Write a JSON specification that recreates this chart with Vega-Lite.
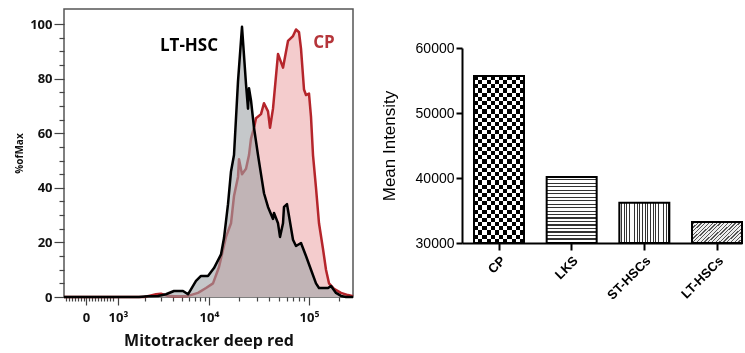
{
 "$schema": "https://vega.github.io/schema/vega-lite/v6.json",
 "padding": {"left": 13, "top": 8, "right": 0, "bottom": 0},
 "background": "white",
 "config": {"view": {"stroke": null}, "axis": {"grid": false}},
 "spacing": 25,
 "datasets": {
  "hist": [
   {"cell":"CP","channel":2.55,"pct":0},{"cell":"CP","channel":3.35,"pct":0},{"cell":"CP","channel":3.42,"pct":0.6},{"cell":"CP","channel":3.47,"pct":1.0},{"cell":"CP","channel":3.52,"pct":1.2},{"cell":"CP","channel":3.58,"pct":0.5},{"cell":"CP","channel":3.65,"pct":0.3},{"cell":"CP","channel":3.79,"pct":0.4},{"cell":"CP","channel":3.89,"pct":1.5},{"cell":"CP","channel":3.97,"pct":3.3},{"cell":"CP","channel":4.04,"pct":5},{"cell":"CP","channel":4.10,"pct":11},{"cell":"CP","channel":4.17,"pct":22},{"cell":"CP","channel":4.22,"pct":27},{"cell":"CP","channel":4.25,"pct":37},{"cell":"CP","channel":4.29,"pct":44},{"cell":"CP","channel":4.30,"pct":50.5},{"cell":"CP","channel":4.33,"pct":45},{"cell":"CP","channel":4.37,"pct":47},{"cell":"CP","channel":4.40,"pct":52},{"cell":"CP","channel":4.42,"pct":58},{"cell":"CP","channel":4.45,"pct":62},{"cell":"CP","channel":4.47,"pct":65.5},{"cell":"CP","channel":4.52,"pct":67},{"cell":"CP","channel":4.55,"pct":71},{"cell":"CP","channel":4.59,"pct":68},{"cell":"CP","channel":4.61,"pct":62},{"cell":"CP","channel":4.64,"pct":69},{"cell":"CP","channel":4.69,"pct":89},{"cell":"CP","channel":4.74,"pct":84},{"cell":"CP","channel":4.79,"pct":93.8},{"cell":"CP","channel":4.84,"pct":95.6},{"cell":"CP","channel":4.87,"pct":98},{"cell":"CP","channel":4.90,"pct":97},{"cell":"CP","channel":4.92,"pct":91},{"cell":"CP","channel":4.95,"pct":76},{"cell":"CP","channel":4.97,"pct":74},{"cell":"CP","channel":5.00,"pct":74.5},{"cell":"CP","channel":5.02,"pct":66},{"cell":"CP","channel":5.04,"pct":52},{"cell":"CP","channel":5.07,"pct":40},{"cell":"CP","channel":5.10,"pct":27},{"cell":"CP","channel":5.14,"pct":17.6},{"cell":"CP","channel":5.17,"pct":10},{"cell":"CP","channel":5.20,"pct":5},{"cell":"CP","channel":5.25,"pct":3},{"cell":"CP","channel":5.32,"pct":1.5},{"cell":"CP","channel":5.39,"pct":0.7},{"cell":"CP","channel":5.44,"pct":0.3},
   {"cell":"LT-HSC","channel":2.55,"pct":0},{"cell":"LT-HSC","channel":3.30,"pct":0},{"cell":"LT-HSC","channel":3.39,"pct":0.3},{"cell":"LT-HSC","channel":3.49,"pct":0.4},{"cell":"LT-HSC","channel":3.57,"pct":1},{"cell":"LT-HSC","channel":3.65,"pct":2.2},{"cell":"LT-HSC","channel":3.74,"pct":2.2},{"cell":"LT-HSC","channel":3.79,"pct":1},{"cell":"LT-HSC","channel":3.87,"pct":5.9},{"cell":"LT-HSC","channel":3.92,"pct":7.7},{"cell":"LT-HSC","channel":3.99,"pct":7.7},{"cell":"LT-HSC","channel":4.05,"pct":10.6},{"cell":"LT-HSC","channel":4.12,"pct":15.6},{"cell":"LT-HSC","channel":4.15,"pct":21.6},{"cell":"LT-HSC","channel":4.19,"pct":34},{"cell":"LT-HSC","channel":4.22,"pct":46},{"cell":"LT-HSC","channel":4.25,"pct":52},{"cell":"LT-HSC","channel":4.29,"pct":79},{"cell":"LT-HSC","channel":4.33,"pct":99},{"cell":"LT-HSC","channel":4.37,"pct":78},{"cell":"LT-HSC","channel":4.39,"pct":69},{"cell":"LT-HSC","channel":4.40,"pct":76.5},{"cell":"LT-HSC","channel":4.42,"pct":72},{"cell":"LT-HSC","channel":4.45,"pct":62},{"cell":"LT-HSC","channel":4.49,"pct":52},{"cell":"LT-HSC","channel":4.52,"pct":45},{"cell":"LT-HSC","channel":4.55,"pct":38},{"cell":"LT-HSC","channel":4.59,"pct":33},{"cell":"LT-HSC","channel":4.64,"pct":28.6},{"cell":"LT-HSC","channel":4.65,"pct":30.8},{"cell":"LT-HSC","channel":4.69,"pct":27},{"cell":"LT-HSC","channel":4.71,"pct":22},{"cell":"LT-HSC","channel":4.74,"pct":27},{"cell":"LT-HSC","channel":4.75,"pct":33},{"cell":"LT-HSC","channel":4.78,"pct":34},{"cell":"LT-HSC","channel":4.80,"pct":29.7},{"cell":"LT-HSC","channel":4.84,"pct":21},{"cell":"LT-HSC","channel":4.87,"pct":18.7},{"cell":"LT-HSC","channel":4.92,"pct":19.8},{"cell":"LT-HSC","channel":4.97,"pct":15},{"cell":"LT-HSC","channel":5.02,"pct":10},{"cell":"LT-HSC","channel":5.07,"pct":5},{"cell":"LT-HSC","channel":5.10,"pct":3.3},{"cell":"LT-HSC","channel":5.19,"pct":3.3},{"cell":"LT-HSC","channel":5.22,"pct":4},{"cell":"LT-HSC","channel":5.27,"pct":1.5},{"cell":"LT-HSC","channel":5.32,"pct":0.4},{"cell":"LT-HSC","channel":5.37,"pct":0},{"cell":"LT-HSC","channel":5.44,"pct":0}
  ],
  "notes": [
   {"label":"LT-HSC","cell":"LT-HSC","channel":3.80,"pct":92},
   {"label":"CP","cell":"CP","channel":5.15,"pct":93}
  ],
  "bars": [
   {"population":"CP","mean":55700},
   {"population":"LKS","mean":40150},
   {"population":"ST-HSCs","mean":36200},
   {"population":"LT-HSCs","mean":33250}
  ]
 },
 "hconcat": [
  {
   "width": 289, "height": 288,
   "view": {"stroke": "#555", "strokeWidth": 1.5},
   "encoding": {
    "x": {"field":"channel","type":"quantitative","scale":{"domain":[2.55,5.44],"nice":false,"zero":false},
     "axis": {"title":"Mitotracker deep red","titleFont":"Open Sans","titleFontWeight":"bold","titleFontSize":16,"titleColor":"#111","titlePadding":8,
      "values":[2.57,2.60,2.63,2.66,2.69,2.72,2.745,2.77,2.80,2.83,2.86,2.89,2.92,2.95,2.98,3.01,3.04,3.09,3.364,3.524,3.638,3.726,3.798,3.859,3.912,3.958,4,4.301,4.477,4.602,4.699,4.778,4.845,4.903,4.954,5,5.301],
      "labelExpr":"datum.value === 2.77 ? '0' : datum.value === 3.09 ? '10³' : datum.value === 4 ? '10⁴' : datum.value === 5 ? '10⁵' : ''",
      "labelFont":"Open Sans","labelFontWeight":"bold","labelFontSize":13,"labelColor":"#111","labelOverlap":false,"labelFlush":false,"labelBound":false,"labelPadding":6,
      "domain":false,"tickColor":"#444","tickWidth":1.2,
      "tickSize":{"condition":{"test":"datum.value === 2.77 || datum.value === 3.09 || datum.value === 4 || datum.value === 5","value":8},"value":4}}},
    "y": {"field":"pct","type":"quantitative","scale":{"domain":[0,105.5],"nice":false},
     "axis": {"title":"%ofMax","titleFont":"Open Sans","titleFontWeight":"bold","titleFontSize":10,"titleColor":"#111","titlePadding":5,
      "values":[0,5,10,15,20,25,30,35,40,45,50,55,60,65,70,75,80,85,90,95,100],
      "labelExpr":"datum.value % 20 === 0 ? datum.label : ''",
      "labelFont":"Open Sans","labelFontWeight":"bold","labelFontSize":13,"labelColor":"#111","labelOverlap":false,"labelPadding":2,
      "domain":false,"tickColor":"#444","tickWidth":1.2,
      "tickSize":{"condition":{"test":"datum.value % 20 === 0","value":10},"value":5}}}
   },
   "layer": [
    {"data":{"name":"hist"},"transform":[{"filter":"datum.cell === 'CP'"}],"mark":{"type":"area","fill":"#f4cccd"}},
    {"data":{"name":"hist"},"transform":[{"filter":"datum.cell === 'CP'"}],"mark":{"type":"line","color":"#b5252b","strokeWidth":2.5,"strokeJoin":"round"}},
    {"data":{"name":"hist"},"transform":[{"filter":"datum.cell === 'LT-HSC'"}],"mark":{"type":"area","fill":"#9fa3a6","fillOpacity":0.6}},
    {"data":{"name":"hist"},"transform":[{"filter":"datum.cell === 'LT-HSC'"}],"mark":{"type":"line","color":"#000","strokeWidth":2.5,"strokeJoin":"round"}},
    {"data":{"name":"notes"},"mark":{"type":"text","font":"Open Sans","fontWeight":"bold","fontSize":17},
     "encoding":{"text":{"field":"label"},"color":{"field":"cell","type":"nominal","scale":{"domain":["LT-HSC","CP"],"range":["#000000","#b5353a"]},"legend":null}}}
   ]
  },
  {
   "spacing": 20,
   "vconcat": [
    {"width": 280, "height": 12, "data": {"values": [{"t": ""}]}, "mark": {"type": "text"}, "encoding": {"text": {"field": "t"}}},
    {
   "width": 280, "height": 195,
   "data": {"name": "bars"},
   "encoding": {
    "x": {"field":"population","type":"nominal","sort":null,
     "scale":{"domain":["CP","LKS","ST-HSCs","LT-HSCs"],"paddingInner":0.312,"paddingOuter":0.0826,"align":1},
     "axis":{"title":null,"labelAngle":-45,"labelFont":"Liberation Sans","labelFontWeight":"bold","labelFontSize":13,"labelColor":"#000","domainColor":"#000","domainWidth":2,"tickColor":"#000","tickWidth":2,"tickSize":7,"labelPadding":4}},
    "y": {"field":"mean","type":"quantitative","scale":{"domain":[30000,60000],"nice":false,"zero":false},
     "axis":{"title":"Mean Intensity","titleFont":"Liberation Sans","titleFontWeight":"normal","titleFontSize":17,"titleColor":"#000","titlePadding":17,
      "values":[30000,40000,50000,60000],"format":"d","labelFont":"Liberation Sans","labelFontSize":14,"labelColor":"#000","labelPadding":2,
      "domainColor":"#000","domainWidth":2,"tickColor":"#000","tickWidth":2,"tickSize":6}},
    "y2": {"datum": 30000}
   },
   "layer": [
    {"transform":[{"filter":"datum.population === 'CP'"}],
     "mark":{"type":"bar","fill":{"gradient":"linear","x1":0,"y1":0,"x2":1,"y2":0,"stops":[
      {"offset":0,"color":"#000"},{"offset":0.0833,"color":"#000"},{"offset":0.0833,"color":"#fff"},{"offset":0.1667,"color":"#fff"},
      {"offset":0.1667,"color":"#000"},{"offset":0.25,"color":"#000"},{"offset":0.25,"color":"#fff"},{"offset":0.3333,"color":"#fff"},
      {"offset":0.3333,"color":"#000"},{"offset":0.4167,"color":"#000"},{"offset":0.4167,"color":"#fff"},{"offset":0.5,"color":"#fff"},
      {"offset":0.5,"color":"#000"},{"offset":0.5833,"color":"#000"},{"offset":0.5833,"color":"#fff"},{"offset":0.6667,"color":"#fff"},
      {"offset":0.6667,"color":"#000"},{"offset":0.75,"color":"#000"},{"offset":0.75,"color":"#fff"},{"offset":0.8333,"color":"#fff"},
      {"offset":0.8333,"color":"#000"},{"offset":0.9167,"color":"#000"},{"offset":0.9167,"color":"#fff"},{"offset":1,"color":"#fff"}]}}},
    {"transform":[{"filter":"datum.population === 'CP'"}],
     "mark":{"type":"bar","blend":"difference","fill":{"gradient":"linear","x1":0,"y1":0,"x2":0,"y2":1,"stops":[
      {"offset":0,"color":"#000"},{"offset":0.025,"color":"#000"},{"offset":0.025,"color":"#fff"},{"offset":0.05,"color":"#fff"},
      {"offset":0.05,"color":"#000"},{"offset":0.075,"color":"#000"},{"offset":0.075,"color":"#fff"},{"offset":0.1,"color":"#fff"},
      {"offset":0.1,"color":"#000"},{"offset":0.125,"color":"#000"},{"offset":0.125,"color":"#fff"},{"offset":0.15,"color":"#fff"},
      {"offset":0.15,"color":"#000"},{"offset":0.175,"color":"#000"},{"offset":0.175,"color":"#fff"},{"offset":0.2,"color":"#fff"},
      {"offset":0.2,"color":"#000"},{"offset":0.225,"color":"#000"},{"offset":0.225,"color":"#fff"},{"offset":0.25,"color":"#fff"},
      {"offset":0.25,"color":"#000"},{"offset":0.275,"color":"#000"},{"offset":0.275,"color":"#fff"},{"offset":0.3,"color":"#fff"},
      {"offset":0.3,"color":"#000"},{"offset":0.325,"color":"#000"},{"offset":0.325,"color":"#fff"},{"offset":0.35,"color":"#fff"},
      {"offset":0.35,"color":"#000"},{"offset":0.375,"color":"#000"},{"offset":0.375,"color":"#fff"},{"offset":0.4,"color":"#fff"},
      {"offset":0.4,"color":"#000"},{"offset":0.425,"color":"#000"},{"offset":0.425,"color":"#fff"},{"offset":0.45,"color":"#fff"},
      {"offset":0.45,"color":"#000"},{"offset":0.475,"color":"#000"},{"offset":0.475,"color":"#fff"},{"offset":0.5,"color":"#fff"},
      {"offset":0.5,"color":"#000"},{"offset":0.525,"color":"#000"},{"offset":0.525,"color":"#fff"},{"offset":0.55,"color":"#fff"},
      {"offset":0.55,"color":"#000"},{"offset":0.575,"color":"#000"},{"offset":0.575,"color":"#fff"},{"offset":0.6,"color":"#fff"},
      {"offset":0.6,"color":"#000"},{"offset":0.625,"color":"#000"},{"offset":0.625,"color":"#fff"},{"offset":0.65,"color":"#fff"},
      {"offset":0.65,"color":"#000"},{"offset":0.675,"color":"#000"},{"offset":0.675,"color":"#fff"},{"offset":0.7,"color":"#fff"},
      {"offset":0.7,"color":"#000"},{"offset":0.725,"color":"#000"},{"offset":0.725,"color":"#fff"},{"offset":0.75,"color":"#fff"},
      {"offset":0.75,"color":"#000"},{"offset":0.775,"color":"#000"},{"offset":0.775,"color":"#fff"},{"offset":0.8,"color":"#fff"},
      {"offset":0.8,"color":"#000"},{"offset":0.825,"color":"#000"},{"offset":0.825,"color":"#fff"},{"offset":0.85,"color":"#fff"},
      {"offset":0.85,"color":"#000"},{"offset":0.875,"color":"#000"},{"offset":0.875,"color":"#fff"},{"offset":0.9,"color":"#fff"},
      {"offset":0.9,"color":"#000"},{"offset":0.925,"color":"#000"},{"offset":0.925,"color":"#fff"},{"offset":0.95,"color":"#fff"},
      {"offset":0.95,"color":"#000"},{"offset":0.975,"color":"#000"},{"offset":0.975,"color":"#fff"},{"offset":1,"color":"#fff"}]}}},
    {"transform":[{"filter":"datum.population === 'LKS'"}],
     "mark":{"type":"bar","fill":{"gradient":"linear","x1":0,"y1":0,"x2":0,"y2":1,"stops":[
      {"offset":0,"color":"#fff"},{"offset":0.0342,"color":"#fff"},{"offset":0.0342,"color":"#333"},{"offset":0.0526,"color":"#333"},
      {"offset":0.0526,"color":"#fff"},{"offset":0.0868,"color":"#fff"},{"offset":0.0868,"color":"#333"},{"offset":0.1053,"color":"#333"},
      {"offset":0.1053,"color":"#fff"},{"offset":0.1395,"color":"#fff"},{"offset":0.1395,"color":"#333"},{"offset":0.1579,"color":"#333"},
      {"offset":0.1579,"color":"#fff"},{"offset":0.1921,"color":"#fff"},{"offset":0.1921,"color":"#333"},{"offset":0.2105,"color":"#333"},
      {"offset":0.2105,"color":"#fff"},{"offset":0.2447,"color":"#fff"},{"offset":0.2447,"color":"#333"},{"offset":0.2632,"color":"#333"},
      {"offset":0.2632,"color":"#fff"},{"offset":0.2974,"color":"#fff"},{"offset":0.2974,"color":"#333"},{"offset":0.3158,"color":"#333"},
      {"offset":0.3158,"color":"#fff"},{"offset":0.35,"color":"#fff"},{"offset":0.35,"color":"#333"},{"offset":0.3684,"color":"#333"},
      {"offset":0.3684,"color":"#fff"},{"offset":0.4026,"color":"#fff"},{"offset":0.4026,"color":"#333"},{"offset":0.4211,"color":"#333"},
      {"offset":0.4211,"color":"#fff"},{"offset":0.4553,"color":"#fff"},{"offset":0.4553,"color":"#333"},{"offset":0.4737,"color":"#333"},
      {"offset":0.4737,"color":"#fff"},{"offset":0.5079,"color":"#fff"},{"offset":0.5079,"color":"#333"},{"offset":0.5263,"color":"#333"},
      {"offset":0.5263,"color":"#fff"},{"offset":0.5605,"color":"#fff"},{"offset":0.5605,"color":"#333"},{"offset":0.5789,"color":"#333"},
      {"offset":0.5789,"color":"#fff"},{"offset":0.6132,"color":"#fff"},{"offset":0.6132,"color":"#333"},{"offset":0.6316,"color":"#333"},
      {"offset":0.6316,"color":"#fff"},{"offset":0.6658,"color":"#fff"},{"offset":0.6658,"color":"#333"},{"offset":0.6842,"color":"#333"},
      {"offset":0.6842,"color":"#fff"},{"offset":0.7184,"color":"#fff"},{"offset":0.7184,"color":"#333"},{"offset":0.7368,"color":"#333"},
      {"offset":0.7368,"color":"#fff"},{"offset":0.7711,"color":"#fff"},{"offset":0.7711,"color":"#333"},{"offset":0.7895,"color":"#333"},
      {"offset":0.7895,"color":"#fff"},{"offset":0.8237,"color":"#fff"},{"offset":0.8237,"color":"#333"},{"offset":0.8421,"color":"#333"},
      {"offset":0.8421,"color":"#fff"},{"offset":0.8763,"color":"#fff"},{"offset":0.8763,"color":"#333"},{"offset":0.8947,"color":"#333"},
      {"offset":0.8947,"color":"#fff"},{"offset":0.9289,"color":"#fff"},{"offset":0.9289,"color":"#333"},{"offset":0.9474,"color":"#333"},
      {"offset":0.9474,"color":"#fff"},{"offset":0.9816,"color":"#fff"},{"offset":0.9816,"color":"#333"},{"offset":1,"color":"#333"}]}}},
    {"transform":[{"filter":"datum.population === 'ST-HSCs'"}],
     "mark":{"type":"bar","fill":{"gradient":"linear","x1":0,"y1":0,"x2":1,"y2":0,"stops":[
      {"offset":0,"color":"#fff"},{"offset":0.0342,"color":"#fff"},{"offset":0.0342,"color":"#333"},{"offset":0.0526,"color":"#333"},
      {"offset":0.0526,"color":"#fff"},{"offset":0.0868,"color":"#fff"},{"offset":0.0868,"color":"#333"},{"offset":0.1053,"color":"#333"},
      {"offset":0.1053,"color":"#fff"},{"offset":0.1395,"color":"#fff"},{"offset":0.1395,"color":"#333"},{"offset":0.1579,"color":"#333"},
      {"offset":0.1579,"color":"#fff"},{"offset":0.1921,"color":"#fff"},{"offset":0.1921,"color":"#333"},{"offset":0.2105,"color":"#333"},
      {"offset":0.2105,"color":"#fff"},{"offset":0.2447,"color":"#fff"},{"offset":0.2447,"color":"#333"},{"offset":0.2632,"color":"#333"},
      {"offset":0.2632,"color":"#fff"},{"offset":0.2974,"color":"#fff"},{"offset":0.2974,"color":"#333"},{"offset":0.3158,"color":"#333"},
      {"offset":0.3158,"color":"#fff"},{"offset":0.35,"color":"#fff"},{"offset":0.35,"color":"#333"},{"offset":0.3684,"color":"#333"},
      {"offset":0.3684,"color":"#fff"},{"offset":0.4026,"color":"#fff"},{"offset":0.4026,"color":"#333"},{"offset":0.4211,"color":"#333"},
      {"offset":0.4211,"color":"#fff"},{"offset":0.4553,"color":"#fff"},{"offset":0.4553,"color":"#333"},{"offset":0.4737,"color":"#333"},
      {"offset":0.4737,"color":"#fff"},{"offset":0.5079,"color":"#fff"},{"offset":0.5079,"color":"#333"},{"offset":0.5263,"color":"#333"},
      {"offset":0.5263,"color":"#fff"},{"offset":0.5605,"color":"#fff"},{"offset":0.5605,"color":"#333"},{"offset":0.5789,"color":"#333"},
      {"offset":0.5789,"color":"#fff"},{"offset":0.6132,"color":"#fff"},{"offset":0.6132,"color":"#333"},{"offset":0.6316,"color":"#333"},
      {"offset":0.6316,"color":"#fff"},{"offset":0.6658,"color":"#fff"},{"offset":0.6658,"color":"#333"},{"offset":0.6842,"color":"#333"},
      {"offset":0.6842,"color":"#fff"},{"offset":0.7184,"color":"#fff"},{"offset":0.7184,"color":"#333"},{"offset":0.7368,"color":"#333"},
      {"offset":0.7368,"color":"#fff"},{"offset":0.7711,"color":"#fff"},{"offset":0.7711,"color":"#333"},{"offset":0.7895,"color":"#333"},
      {"offset":0.7895,"color":"#fff"},{"offset":0.8237,"color":"#fff"},{"offset":0.8237,"color":"#333"},{"offset":0.8421,"color":"#333"},
      {"offset":0.8421,"color":"#fff"},{"offset":0.8763,"color":"#fff"},{"offset":0.8763,"color":"#333"},{"offset":0.8947,"color":"#333"},
      {"offset":0.8947,"color":"#fff"},{"offset":0.9289,"color":"#fff"},{"offset":0.9289,"color":"#333"},{"offset":0.9474,"color":"#333"},
      {"offset":0.9474,"color":"#fff"},{"offset":0.9816,"color":"#fff"},{"offset":0.9816,"color":"#333"},{"offset":1,"color":"#333"}]}}},
    {"transform":[{"filter":"datum.population === 'LT-HSCs'"}],
     "mark":{"type":"bar","fill":{"gradient":"linear","x1":0,"y1":0,"x2":1.206,"y2":0.531,"stops":[
      {"offset":0,"color":"#eee"},{"offset":0.0342,"color":"#eee"},{"offset":0.0342,"color":"#555"},{"offset":0.0526,"color":"#555"},
      {"offset":0.0526,"color":"#eee"},{"offset":0.0868,"color":"#eee"},{"offset":0.0868,"color":"#555"},{"offset":0.1053,"color":"#555"},
      {"offset":0.1053,"color":"#eee"},{"offset":0.1395,"color":"#eee"},{"offset":0.1395,"color":"#555"},{"offset":0.1579,"color":"#555"},
      {"offset":0.1579,"color":"#eee"},{"offset":0.1921,"color":"#eee"},{"offset":0.1921,"color":"#555"},{"offset":0.2105,"color":"#555"},
      {"offset":0.2105,"color":"#eee"},{"offset":0.2447,"color":"#eee"},{"offset":0.2447,"color":"#555"},{"offset":0.2632,"color":"#555"},
      {"offset":0.2632,"color":"#eee"},{"offset":0.2974,"color":"#eee"},{"offset":0.2974,"color":"#555"},{"offset":0.3158,"color":"#555"},
      {"offset":0.3158,"color":"#eee"},{"offset":0.35,"color":"#eee"},{"offset":0.35,"color":"#555"},{"offset":0.3684,"color":"#555"},
      {"offset":0.3684,"color":"#eee"},{"offset":0.4026,"color":"#eee"},{"offset":0.4026,"color":"#555"},{"offset":0.4211,"color":"#555"},
      {"offset":0.4211,"color":"#eee"},{"offset":0.4553,"color":"#eee"},{"offset":0.4553,"color":"#555"},{"offset":0.4737,"color":"#555"},
      {"offset":0.4737,"color":"#eee"},{"offset":0.5079,"color":"#eee"},{"offset":0.5079,"color":"#555"},{"offset":0.5263,"color":"#555"},
      {"offset":0.5263,"color":"#eee"},{"offset":0.5605,"color":"#eee"},{"offset":0.5605,"color":"#555"},{"offset":0.5789,"color":"#555"},
      {"offset":0.5789,"color":"#eee"},{"offset":0.6132,"color":"#eee"},{"offset":0.6132,"color":"#555"},{"offset":0.6316,"color":"#555"},
      {"offset":0.6316,"color":"#eee"},{"offset":0.6658,"color":"#eee"},{"offset":0.6658,"color":"#555"},{"offset":0.6842,"color":"#555"},
      {"offset":0.6842,"color":"#eee"},{"offset":0.7184,"color":"#eee"},{"offset":0.7184,"color":"#555"},{"offset":0.7368,"color":"#555"},
      {"offset":0.7368,"color":"#eee"},{"offset":0.7711,"color":"#eee"},{"offset":0.7711,"color":"#555"},{"offset":0.7895,"color":"#555"},
      {"offset":0.7895,"color":"#eee"},{"offset":0.8237,"color":"#eee"},{"offset":0.8237,"color":"#555"},{"offset":0.8421,"color":"#555"},
      {"offset":0.8421,"color":"#eee"},{"offset":0.8763,"color":"#eee"},{"offset":0.8763,"color":"#555"},{"offset":0.8947,"color":"#555"},
      {"offset":0.8947,"color":"#eee"},{"offset":0.9289,"color":"#eee"},{"offset":0.9289,"color":"#555"},{"offset":0.9474,"color":"#555"},
      {"offset":0.9474,"color":"#eee"},{"offset":0.9816,"color":"#eee"},{"offset":0.9816,"color":"#555"},{"offset":1,"color":"#555"}]}}},
    {"mark":{"type":"bar","filled":false,"color":"#000","strokeWidth":2}}
   ]
    }
   ]
  }
 ]
}
